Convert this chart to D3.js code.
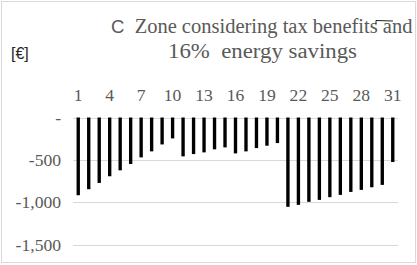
<!DOCTYPE html>
<html>
<head>
<meta charset="utf-8">
<script src="https://cdn.jsdelivr.net/npm/d3@7"></script>
<style>
  body { margin: 0; background: #fff; }
  svg { display: block; }
  .tick-label { font-family: "Liberation Serif", "Times New Roman", serif; font-size: 16px; fill: #595959; }
  .title { font-family: "Liberation Serif", serif; font-size: 20.5px; fill: #595959; white-space: pre; }
</style>
</head>
<body>
<div id="chart"></div>
<script>
const width = 417, height = 265;

// data
const days = d3.range(1, 32);
const values = [-918, -847, -773, -694, -624, -549, -471, -400, -318, -247,
                -459, -432, -412, -376, -353, -424, -400, -361, -333, -302,
                -1055, -1032, -996, -973, -941, -914, -879, -855, -824, -796, -526];
const yTicks = [0, -500, -1000, -1500];
const xLabelDays = [1, 4, 7, 10, 13, 16, 19, 22, 25, 28, 31];
const titlePrefix = "C";
const titleLine1 = "  Zone considering tax benefits and";
const titleLine2 = "16%  energy savings";
const unitLabel = "[€]";

const stretch = 1.1; // labels in the original look a bit wide

const svg = d3.select("#chart")
    .append("svg")
    .attr("width", width)
    .attr("height", height);

// outer border
svg.append("rect")
    .attr("x", 1.5).attr("y", 1.5)
    .attr("width", 414).attr("height", 261)
    .attr("fill", "none")
    .attr("stroke", "#d9d9d9");

const x = d3.scaleBand()
    .domain(days)
    .range([73, 398])
    .paddingInner(0.68)
    .paddingOuter(0.34);

const y = d3.scaleLinear()
    .domain([-1500, 0])
    .range([244.5, 117.5]);

const fmt = d3.format(",");
const yFormat = v => v === 0 ? "-" : fmt(v).replace("\u2212", "-");

// gridlines
svg.append("g")
    .selectAll("line")
    .data(yTicks)
    .enter()
    .append("line")
    .attr("x1", 73).attr("x2", 398)
    .attr("y1", d => Math.round(y(d)) + 0.5)
    .attr("y2", d => Math.round(y(d)) + 0.5)
    .attr("stroke", "#d9d9d9")
    .attr("stroke-width", 1);

// y labels
svg.append("g")
    .selectAll("text")
    .data(yTicks)
    .enter()
    .append("text")
    .attr("class", "tick-label")
    .attr("transform", d => `translate(61,${y(d) + 6}) scale(${stretch},1)`)
    .attr("text-anchor", "end")
    .text(yFormat);

// x labels on top
svg.append("g")
    .selectAll("text")
    .data(xLabelDays)
    .enter()
    .append("text")
    .attr("class", "tick-label")
    .attr("transform", d => `translate(${x(d) + x.bandwidth() / 2},101) scale(${stretch},1)`)
    .attr("text-anchor", "middle")
    .text(d => d);

// bars
svg.append("g")
    .selectAll("rect")
    .data(values)
    .enter()
    .append("rect")
    .attr("x", (d, i) => x(days[i]))
    .attr("y", y(0))
    .attr("width", x.bandwidth())
    .attr("height", d => y(d) - y(0))
    .attr("fill", "#000");

// title (first line starts with a sans "C", runs off the right edge)
const t1 = svg.append("text")
    .attr("class", "title")
    .attr("x", 111)
    .attr("y", 33)
    .attr("xml:space", "preserve");
t1.append("tspan")
    .attr("font-family", "'Liberation Sans', Arial, sans-serif")
    .style("font-size", "18.5px")
    .text(titlePrefix);
t1.append("tspan").text(titleLine1);

svg.append("text")
    .attr("class", "title")
    .attr("x", 168)
    .attr("y", 58)
    .attr("textLength", 189)
    .attr("lengthAdjust", "spacingAndGlyphs")
    .attr("xml:space", "preserve")
    .text(titleLine2);

// small stray mark over "benefits"
svg.append("path")
    .attr("d", "M376,24 L376,20.5 L393,21")
    .attr("fill", "none")
    .attr("stroke", "#222")
    .attr("stroke-width", 1);

// unit label
svg.append("text")
    .attr("x", 11)
    .attr("y", 59)
    .attr("font-family", "'Liberation Sans', Arial, sans-serif")
    .attr("font-size", "16px")
    .attr("fill", "#262626")
    .text(unitLabel);
</script>
</body>
</html>
